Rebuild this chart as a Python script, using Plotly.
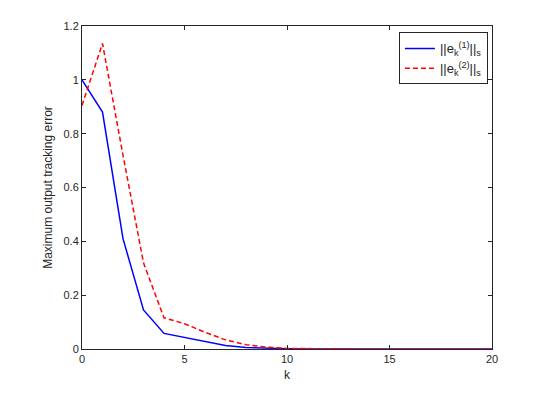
import plotly.graph_objects as go

k = list(range(21))
err1 = [1.0, 0.88, 0.41, 0.145, 0.058, 0.043, 0.028, 0.013, 0.006, 0.003, 0.001,
        0, 0, 0, 0, 0, 0, 0, 0, 0, 0]
err2 = [0.905, 1.135, 0.72, 0.32, 0.116, 0.094, 0.062, 0.034, 0.016, 0.007, 0.002,
        0.001, 0, 0, 0, 0, 0, 0, 0, 0, 0]

fig = go.Figure()
fig.add_trace(go.Scatter(x=k, y=err1, mode='lines', name='||e<sub>k</sub><sup>(1)</sup>||<sub>s</sub>',
                         line=dict(color='#0000ff', width=1.5)))
fig.add_trace(go.Scatter(x=k, y=err2, mode='lines', name='||e<sub>k</sub><sup>(2)</sup>||<sub>s</sub>',
                         line=dict(color='#ff0000', width=1.5, dash='5px,3px')))

axis_style = dict(showline=True, linecolor='#262626', linewidth=1, mirror='ticks',
                  ticks='inside', ticklen=4, tickcolor='#262626', showgrid=False, zeroline=False,
                  tickfont=dict(size=11, color='#262626'))

fig.update_xaxes(range=[0, 20], tickvals=[0, 5, 10, 15, 20],
                 title=dict(text='k', standoff=6, font=dict(size=12, color='#262626')), **axis_style)
fig.update_yaxes(range=[0, 1.2], tickvals=[0, 0.2, 0.4, 0.6, 0.8, 1, 1.2],
                 ticktext=['0', '0.2', '0.4', '0.6', '0.8', '1', '1.2'],
                 title=dict(text='Maximum output tracking error', standoff=8, font=dict(size=12, color='#262626')),
                 **axis_style)

# page body adds 8px, so the figure is a bit smaller than the window
fig.update_layout(
    width=540, height=391,
    margin=dict(l=74, r=56, t=18, b=50),
    paper_bgcolor='white', plot_bgcolor='white',
    font=dict(family='Liberation Sans, Arial, sans-serif', size=11, color='#262626'),
    legend=dict(x=0.99, y=0.98, xanchor='right', yanchor='top', bgcolor='white',
                bordercolor='#262626', borderwidth=1, font=dict(size=13), tracegroupgap=5),
)

fig.write_html("out.html")
